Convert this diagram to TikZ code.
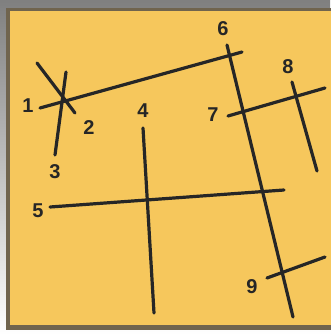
\documentclass[tikz,border=0pt]{standalone}
\usepackage{fontspec}
\setmainfont{Liberation Sans}
\definecolor{sheet}{RGB}{246,199,92}
\definecolor{rim}{RGB}{112,100,78}
\definecolor{shade}{RGB}{222,222,220}
\begin{document}
\begin{tikzpicture}[x=1pt, y=-1pt,
    road/.style={line width=3.2pt, black!85, line cap=round},
    tag/.style={font=\fontsize{20}{24}\selectfont\bfseries, text=black!85, inner sep=0pt}]
    \useasboundingbox (0,0) rectangle (330,335);

    % sheet
    \fill[shade] (0,0) rectangle (330,335);
    \fill[rim] (6,8) rectangle (332,330);
    \fill[sheet] (10,11) rectangle (332,325);

    % end points
    \coordinate (a1) at (40,108);  \coordinate (b1) at (242,52);
    \coordinate (a2) at (37,63);   \coordinate (b2) at (75,113);
    \coordinate (a3) at (66,72);   \coordinate (b3) at (55,155);
    \coordinate (a4) at (143,128); \coordinate (b4) at (154,313);
    \coordinate (a5) at (50,207);  \coordinate (b5) at (284,190);
    \coordinate (a6) at (227,45);  \coordinate (b6) at (293,317);
    \coordinate (a7) at (228,116); \coordinate (b7) at (325,88);
    \coordinate (a8) at (292,82);  \coordinate (b8) at (317,171);
    \coordinate (a9) at (267,278); \coordinate (b9) at (325,257);

    % lines
    \foreach \i in {1,...,9}
        \draw[road] (a\i) -- (b\i);

    % numbers
    \node[tag] (n1) at (28,106) {1};
    \node[tag] (n2) at (89,128) {2};
    \node[tag] (n3) at (55,172) {3};
    \node[tag] (n4) at (143,111) {4};
    \node[tag] (n5) at (38,211) {5};
    \node[tag] (n6) at (223,29) {6};
    \node[tag] (n7) at (213,115) {7};
    \node[tag] (n8) at (288,67) {8};
    \node[tag] (n9) at (252,287) {9};
\end{tikzpicture}
\end{document}
